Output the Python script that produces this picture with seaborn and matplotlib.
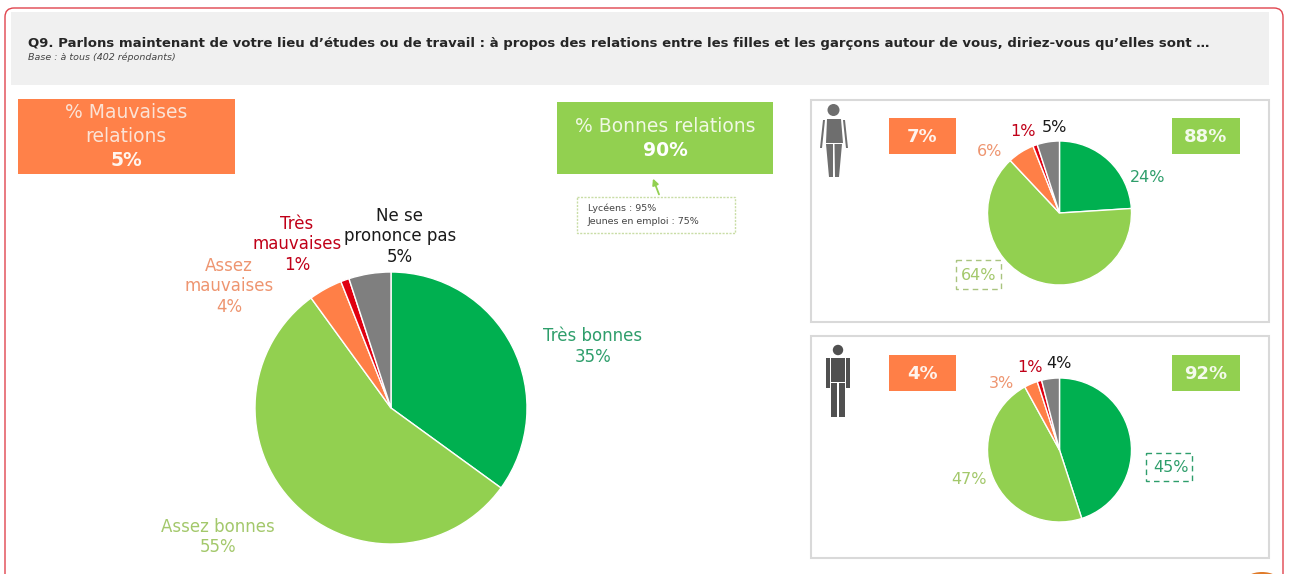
import matplotlib
matplotlib.use("Agg")
import matplotlib.pyplot as plt
from matplotlib.patches import Rectangle, FancyBboxPatch, Circle, Polygon, Ellipse
import seaborn as sns

sns.set_theme(style="white")
plt.rcParams['font.family'] = ['DejaVu Sans']

# ---- data
categories = ["Très bonnes", "Assez bonnes", "Assez mauvaises", "Très mauvaises", "Ne se prononce pas"]
ensemble = [35, 55, 4, 1, 5]
filles = [24, 64, 6, 1, 5]
garcons = [45, 47, 3, 1, 4]
title = "Q9. Parlons maintenant de votre lieu d’études ou de travail : à propos des relations entre les filles et les garçons autour de vous, diriez-vous qu’elles sont …"
base = "Base : à tous (402 répondants)"

C_DARK, C_LIGHT, C_ORANGE, C_RED, C_GREY = "#00B050", "#92D050", "#FF7F47", "#E00010", "#7F7F7F"
palette = sns.color_palette([C_DARK, C_LIGHT, C_ORANGE, C_RED, C_GREY])
T_DARK, T_LIGHT, T_ORANGE, T_RED = "#2E9E6B", "#A3C86B", "#EE9570", "#C00018"

W, H = 1289, 574
fig = plt.figure(figsize=(W / 100, H / 100), dpi=100, facecolor="white")
bg = fig.add_axes([0, 0, 1, 1])
bg.set_xlim(0, W); bg.set_ylim(H, 0); bg.axis("off")


def rect(x0, y0, x1, y1, fc="none", ec="none", lw=0, ls="-"):
    bg.add_patch(Rectangle((x0, y0), x1 - x0, y1 - y0, facecolor=fc, edgecolor=ec, linewidth=lw, linestyle=ls))


def pie(cx, cy, r, vals):
    ax = fig.add_axes([(cx - r) / W, 1 - (cy + r) / H, 2 * r / W, 2 * r / H])
    ax.pie(vals, colors=palette, startangle=90, counterclock=False, radius=1,
           wedgeprops=dict(edgecolor="white", linewidth=1.0))
    ax.set_xlim(-1, 1); ax.set_ylim(-1, 1); ax.patch.set_alpha(0)


def t(x, y, s, color="#222222", size=12, **kw):
    kw.setdefault("ha", "center"); kw.setdefault("va", "center")
    bg.text(x, y, s, color=color, fontsize=size, **kw)


# frame + header
bg.add_patch(FancyBboxPatch((5, 8), 1278, 640, boxstyle="round,pad=0,rounding_size=9",
                            facecolor="white", edgecolor="#E0444E", linewidth=1.0))
rect(11, 12, 1269, 85, fc="#F0F0F0")
t(28, 44, title, color="#262626", size=9.55, ha="left", fontweight="bold")
t(28, 57.5, base, color="#444444", size=6.8, ha="left", fontstyle="italic")

# main boxes
rect(18, 99, 235, 174, fc="#FF8149")
t(126, 113, "% Mauvaises", color="#FBE3D6", size=13.5)
t(126, 137, "relations", color="#FBE3D6", size=13.5)
t(126, 161, "5%", color="#FFF5EE", size=13.5, fontweight="bold")
rect(557, 102, 773, 174, fc="#92D050")
t(665, 127, "% Bonnes relations", color="#F0F8E4", size=13.5)
t(665, 150, "90%", color="#FFFFFF", size=13.5, fontweight="bold")
rect(577, 197, 735, 233, fc="white", ec="#C9DDA6", lw=1.0, ls=(0, (1.5, 1)))
t(588, 208, "Lycéens : 95%", color="#444444", size=6.8, ha="left")
t(588, 221, "Jeunes en emploi : 75%", color="#444444", size=6.8, ha="left")
bg.annotate("", xy=(652, 176), xytext=(660, 197),
            arrowprops=dict(arrowstyle="-|>", color="#92D050", lw=1.3, mutation_scale=9))

# main pie
pie(391, 408, 136, ensemble)
t(593, 336, "Très bonnes", color=T_DARK)
t(593, 357, "35%", color=T_DARK)
t(218, 527, "Assez bonnes", color=T_LIGHT)
t(218, 547, "55%", color=T_LIGHT)
t(229, 266, "Assez", color=T_ORANGE)
t(229, 286, "mauvaises", color=T_ORANGE)
t(229, 307, "4%", color=T_ORANGE)
t(297, 224, "Très", color=T_RED)
t(297, 244, "mauvaises", color=T_RED)
t(297, 265, "1%", color=T_RED)
t(400, 216, "Ne se", color="#1A1A1A")
t(400, 236, "prononce pas", color="#1A1A1A")
t(400, 257, "5%", color="#1A1A1A")

# side panels
for y0, y1 in [(100, 322), (336, 558)]:
    rect(811, y0, 1269, y1, fc="white", ec="#D9D9D9", lw=1.5)
for y0, o, g in [(118, "7%", "88%"), (355, "4%", "92%")]:
    rect(889, y0, 956, y0 + 36, fc="#FF7F47")
    t(922, y0 + 19, o, color="#FFF3EC", size=13, fontweight="bold")
    rect(1172, y0, 1240, y0 + 36, fc="#92D050")
    t(1206, y0 + 19, g, color="#F4FAEC", size=13, fontweight="bold")

pie(1059.5, 213, 72, filles)
pie(1059.5, 450, 72, garcons)

s = 11.5
t(1148, 177, "24%", color=T_DARK, size=s)
t(979, 290 - 15, "64%", color=T_LIGHT, size=s)
rect(956, 260, 1001, 289, ec="#A9C47F", lw=1.0, ls=(0, (4, 3)))
t(990, 151, "6%", color=T_ORANGE, size=s)
t(1023, 132, "1%", color=T_RED, size=s)
t(1054, 127, "5%", color="#1A1A1A", size=s)
t(969, 480, "47%", color=T_LIGHT, size=s)
t(1171, 467, "45%", color=T_DARK, size=s)
rect(1146, 453, 1192, 481, ec="#2E9E6B", lw=1.0, ls=(0, (4, 3)))
t(1001, 383, "3%", color=T_ORANGE, size=s)
t(1030, 368, "1%", color=T_RED, size=s)
t(1059, 364, "4%", color="#1A1A1A", size=s)

# pictograms
g1 = "#6E6E6E"
bg.add_patch(Circle((833.5, 110), 6, fc=g1, ec="none"))
bg.add_patch(Polygon([(827, 119), (841, 119), (843, 143), (826, 143)], fc=g1, ec="none"))
bg.add_patch(Polygon([(825, 120), (822, 148), (820, 148), (823, 120)], fc=g1, ec="none"))
bg.add_patch(Polygon([(843, 120), (846, 148), (848, 148), (845, 120)], fc=g1, ec="none"))
bg.add_patch(Polygon([(826, 144), (833, 144), (833, 177), (829, 177)], fc=g1, ec="none"))
bg.add_patch(Polygon([(834.5, 144), (842, 144), (839, 177), (835, 177)], fc=g1, ec="none"))
g2 = "#505050"
bg.add_patch(Circle((838, 350), 5.2, fc=g2, ec="none"))
rect(831, 358, 845, 382, fc=g2)
rect(826, 358, 830, 388, fc=g2)
rect(846, 358, 849.5, 388, fc=g2)
rect(831, 383, 837, 417, fc=g2)
rect(839, 383, 845, 417, fc=g2)

# corner logo, cut by the edge
bg.add_patch(Ellipse((1262, 582), 36, 20, fc="#E07B2A", ec="none"))

fig.savefig("out.png", dpi=100, facecolor="white")
